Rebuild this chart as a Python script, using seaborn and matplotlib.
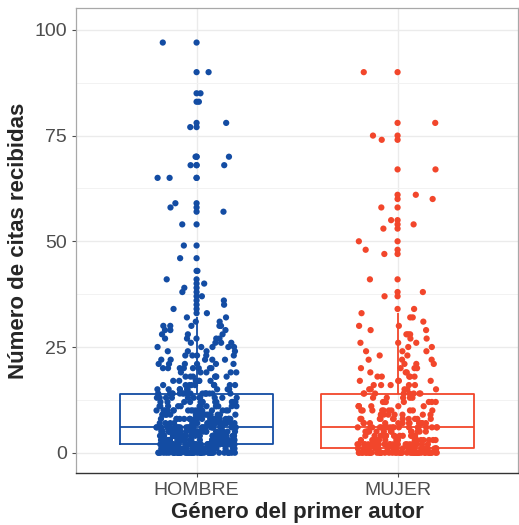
import numpy as np
import pandas as pd
import matplotlib
matplotlib.use('Agg')
import matplotlib.pyplot as plt
import seaborn as sns

# citas por valor (valor, cantidad de artículos)
hombre_valores = [0, 1, 2, 3, 4, 5, 6, 7, 8, 9, 10, 11, 12, 13, 14,
                  15, 16, 17, 18, 19, 20, 21, 22, 23, 24, 25, 26, 27, 28, 29, 30, 31, 32,
                  33, 34, 35, 36, 37, 38, 39, 40, 41, 43, 46, 49, 54, 57, 58, 59,
                  65, 68, 70, 77, 78, 83, 85, 90, 97]
hombre_cuentas = [44, 40, 42, 31, 31, 30, 32, 20, 20, 16, 18, 13, 13, 11, 16,
                  9, 9, 7, 7, 5, 8, 6, 5, 5, 4, 5, 4, 5, 3, 3, 5, 2, 2,
                  1, 1, 1, 1, 1, 1, 1, 1, 1, 1, 1, 1, 1, 1, 1, 1,
                  2, 2, 2, 1, 1, 1, 1, 1, 1]

mujer_valores = [0, 1, 2, 3, 4, 5, 6, 7, 8, 9, 10, 11, 12, 13, 14,
                 15, 16, 17, 18, 19, 20, 21, 22, 23, 24, 25, 26, 27, 28, 29, 30, 31, 32, 33,
                 34, 37, 38, 41, 47, 48, 50, 53, 54, 55, 58, 60, 61, 67, 74, 75, 78, 90]
mujer_cuentas = [45, 32, 22, 18, 16, 14, 18, 12, 11, 8, 10, 6, 7, 5, 8,
                 5, 5, 4, 5, 3, 4, 3, 3, 2, 3, 2, 3, 2, 3, 2, 2, 1, 2, 1,
                 1, 1, 1, 1, 1, 1, 1, 1, 1, 1, 1, 1, 1, 1, 1, 1, 1, 1]

generos = ['HOMBRE', 'MUJER']
colores = {'HOMBRE': '#134CA3', 'MUJER': '#F2462B'}

df = pd.DataFrame({
    'genero': ['HOMBRE'] * sum(hombre_cuentas) + ['MUJER'] * sum(mujer_cuentas),
    'citas': np.concatenate([np.repeat(hombre_valores, hombre_cuentas),
                             np.repeat(mujer_valores, mujer_cuentas)]),
})

# valores atípicos (como geom_boxplot)
q = df.groupby('genero')['citas'].quantile([0.25, 0.75]).unstack()
lim = q[0.75] + 1.5 * (q[0.75] - q[0.25])
atipicos = df[df['citas'] > df['genero'].map(lim)]

sns.set_style('whitegrid')
plt.rcParams['font.family'] = ['Liberation Sans', 'DejaVu Sans']

fig = plt.figure(figsize=(5.19, 5.25), dpi=100)
ax = fig.add_axes([0.1464, 0.099, 0.852, 0.886])

np.random.seed(3)
sns.stripplot(data=df, x='genero', y='citas', hue='genero', order=generos,
              palette=colores, jitter=0.2, size=4.5, linewidth=0,
              legend=False, ax=ax, zorder=3)
sns.stripplot(data=atipicos, x='genero', y='citas', hue='genero', order=generos,
              palette=colores, jitter=False, size=4.5, linewidth=0,
              legend=False, ax=ax, zorder=3)
sns.boxplot(data=df, x='genero', y='citas', hue='genero', order=generos,
            palette=colores, fill=False, width=0.76, linewidth=1.3,
            showfliers=False, showcaps=False, legend=False, ax=ax)

ax.set_xlim(-0.6, 1.6)
ax.set_ylim(-4.8, 105.2)
ax.set_yticks([0, 25, 50, 75, 100])
ax.set_yticks([12.5, 37.5, 62.5, 87.5], minor=True)
ax.grid(True, which='major', color='#EBEBEB', linewidth=1.0)
ax.grid(True, which='minor', axis='y', color='#F2F2F2', linewidth=0.7)
ax.set_axisbelow(True)

ax.tick_params(axis='both', which='major', labelsize=14, labelcolor='#4D4D4D',
               color='#4D4D4D', length=3, width=0.8, left=True, bottom=True)
ax.tick_params(axis='y', which='minor', length=0)

for lado in ['top', 'left', 'right']:
    ax.spines[lado].set_color('#A8A8A8')
    ax.spines[lado].set_linewidth(0.9)
ax.spines['bottom'].set_color('#333333')
ax.spines['bottom'].set_linewidth(1.0)

ax.set_xlabel('Género del primer autor', fontsize=16, fontweight='bold', labelpad=2)
ax.set_ylabel('Número de citas recibidas', fontsize=16, fontweight='bold', labelpad=4)

fig.savefig('out.png', dpi=100)
